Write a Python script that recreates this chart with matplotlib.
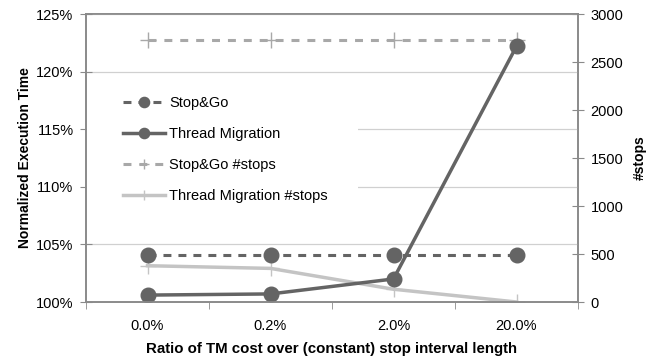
import matplotlib
matplotlib.use("Agg")
import matplotlib.pyplot as plt
import numpy as np
from matplotlib.ticker import FuncFormatter, MultipleLocator
from matplotlib.patches import Rectangle
from matplotlib.transforms import blended_transform_factory

plt.rcParams['font.family'] = ['Liberation Sans', 'DejaVu Sans']

categories = ["0.0%", "0.2%", "2.0%", "20.0%"]
stopgo_time = [104.1, 104.1, 104.1, 104.1]
tm_time = [100.6, 100.7, 102.0, 122.2]
stopgo_stops = [2725, 2725, 2725, 2725]
tm_stops = [378, 350, 133, 0]

dark = "#646464"
light_dash = "#a8a8a8"
light_solid = "#c4c4c4"
spine_c = "#8a8a8a"

fig = plt.figure(figsize=(6.5, 3.6), dpi=100)
ax = fig.add_axes([86/650, 1-302/360, (578-86)/650, (302-14)/360])
ax2 = ax.twinx()
ax.set_zorder(ax2.get_zorder() + 1)
ax.patch.set_visible(False)

x = np.arange(len(categories))

l3, = ax2.plot(x, stopgo_stops, color=light_dash, lw=2.2, ls=(0, (2.6, 2.6)),
               marker='+', ms=11, mew=1.0, label="Stop&Go #stops")
l4, = ax2.plot(x, tm_stops, color=light_solid, lw=2.5, marker='+', ms=11,
               mew=1.0, label="Thread Migration #stops")
l1, = ax.plot(x, stopgo_time, color=dark, lw=2.2, ls=(0, (2.6, 2.3)),
              marker='o', ms=10.5, label="Stop&Go")
l2, = ax.plot(x, tm_time, color=dark, lw=2.5, marker='o', ms=10.5,
              label="Thread Migration")

ax.set_xlim(-0.5, 3.5)
ax.set_ylim(100, 125)
ax2.set_ylim(0, 3000)
ax.yaxis.set_major_locator(MultipleLocator(5))
ax.yaxis.set_major_formatter(FuncFormatter(lambda v, p: f"{int(round(v))}%"))
ax2.yaxis.set_major_locator(MultipleLocator(500))

ax.set_xticks(x)
ax.set_xticklabels(categories)
ax.set_xticks(np.arange(-0.5, 4, 1), minor=True)
ax.tick_params(axis='x', which='major', length=0, pad=12, labelsize=10.5)
ax.tick_params(axis='x', which='minor', length=5, color=spine_c, direction='out')
ax.tick_params(axis='y', direction='inout', length=8, color=spine_c, pad=5, labelsize=10.5)
ax2.tick_params(axis='y', direction='inout', length=8, color=spine_c, pad=5, labelsize=10.5)

ax.grid(axis='y', color="#d0d0d0", lw=0.9)
ax.set_axisbelow(True)

# white background behind the legend (hides gridlines there)
bt = blended_transform_factory(ax.transAxes, ax.transData)
ax.add_patch(Rectangle((0.003, 107.8), (357-86)/492, 10.0, transform=bt,
                       facecolor='white', edgecolor='none', zorder=1))

for a in (ax, ax2):
    for s in a.spines.values():
        s.set_color(spine_c)
        s.set_linewidth(1.2)

ax.set_ylabel("Normalized Execution Time", fontsize=10, fontweight='bold', labelpad=3)
ax2.set_ylabel("#stops", fontsize=10, fontweight='bold', labelpad=7)
ax.set_xlabel("Ratio of TM cost over (constant) stop interval length",
              fontsize=10.8, fontweight='bold', labelpad=7)

leg = ax.legend(handles=[l1, l2, l3, l4], loc='upper left',
                bbox_to_anchor=((123-86)/492, (302-96)/288), frameon=False,
                fontsize=10.5, handlelength=2.9, handletextpad=0.25,
                labelspacing=1.17, borderpad=0, borderaxespad=0, markerscale=0.7)
leg.set_zorder(10)

fig.savefig("out.png", dpi=100)
